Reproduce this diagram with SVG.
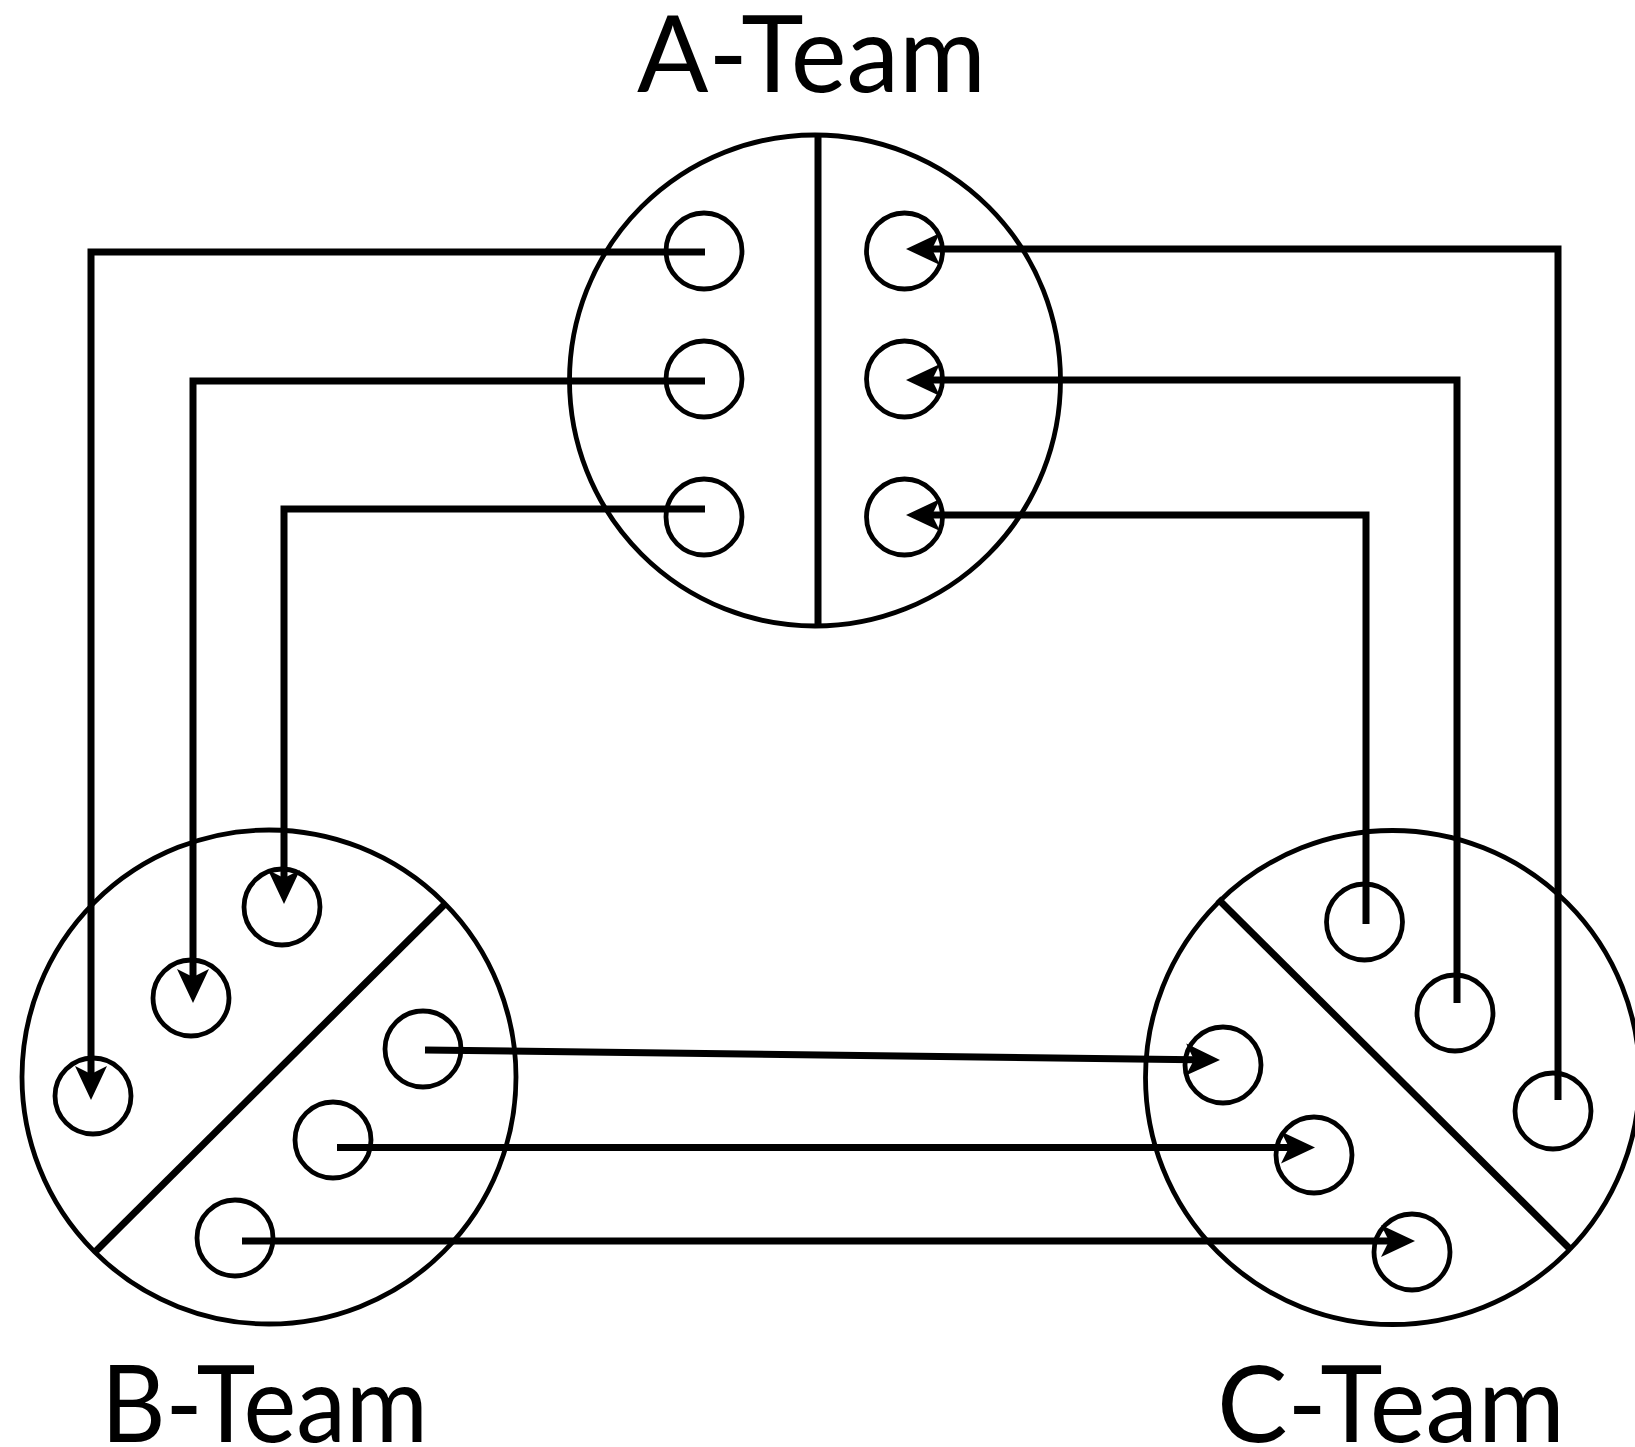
<svg xmlns="http://www.w3.org/2000/svg" width="1635" height="1447" viewBox="0 0 1635 1447">
<style>
  .big { fill: none; stroke: #000; stroke-width: 4.8; }
  .port { fill: none; stroke: #000; stroke-width: 4.8; }
  .div { stroke: #000; stroke-width: 7; fill: none; }
  .wire { fill: none; stroke: #000; stroke-width: 7; stroke-linejoin: miter; }
  .label { font-family: Lato, "Liberation Sans", sans-serif; font-size: 106px; fill: #000; }
</style>
<defs>
  <marker id="arr" markerUnits="userSpaceOnUse" viewBox="-10 -17 38 34" markerWidth="38" markerHeight="34" refX="0" refY="0" orient="auto">
    <path d="M26,0 L-8,-16 L0,0 L-8,16 Z" fill="#000"/>
  </marker>
</defs>
<rect width="1635" height="1447" fill="#fff"/>

<g id="a-team">
  <circle class="big" cx="815" cy="380.5" r="245.5"/>
  <line class="div" x1="818" y1="135" x2="818" y2="626"/>
  <circle class="port" cx="704" cy="251" r="38"/>
  <circle class="port" cx="704" cy="379" r="38"/>
  <circle class="port" cx="704" cy="517" r="38"/>
  <circle class="port" cx="904.5" cy="251" r="38"/>
  <circle class="port" cx="904.5" cy="379" r="38"/>
  <circle class="port" cx="904.5" cy="517" r="38"/>
  <text class="label" x="637" y="92" textLength="349" lengthAdjust="spacingAndGlyphs">A-Team</text>
</g>

<g id="b-team">
  <circle class="big" cx="269" cy="1077" r="247"/>
  <line class="div" x1="95" y1="1252" x2="446" y2="903"/>
  <circle class="port" cx="93" cy="1096" r="38"/>
  <circle class="port" cx="191" cy="998" r="38"/>
  <circle class="port" cx="282" cy="907" r="38"/>
  <circle class="port" cx="423" cy="1049" r="38"/>
  <circle class="port" cx="333" cy="1140" r="38"/>
  <circle class="port" cx="235" cy="1238" r="38"/>
  <text class="label" x="101" y="1442" textLength="327" lengthAdjust="spacingAndGlyphs">B-Team</text>
</g>

<g id="c-team">
  <circle class="big" cx="1392.5" cy="1077.5" r="247"/>
  <line class="div" x1="1218" y1="899" x2="1571" y2="1250"/>
  <circle class="port" cx="1364.5" cy="922" r="38"/>
  <circle class="port" cx="1455" cy="1013" r="38"/>
  <circle class="port" cx="1553" cy="1111" r="38"/>
  <circle class="port" cx="1223" cy="1065" r="38"/>
  <circle class="port" cx="1314" cy="1155" r="38"/>
  <circle class="port" cx="1412" cy="1252" r="38"/>
  <text class="label" x="1217" y="1442" textLength="348" lengthAdjust="spacingAndGlyphs">C-Team</text>
</g>

<g id="connectors">
  <polyline class="wire" points="705,252 91,252 91,1074" marker-end="url(#arr)"/>
  <polyline class="wire" points="705,381 193,381 193,977" marker-end="url(#arr)"/>
  <polyline class="wire" points="705,509 284,509 284,878" marker-end="url(#arr)"/>
  <polyline class="wire" points="1558,1100 1558,249 932,249" marker-end="url(#arr)"/>
  <polyline class="wire" points="1457,1003 1457,380 932,380" marker-end="url(#arr)"/>
  <polyline class="wire" points="1366,924 1366,515 932,515" marker-end="url(#arr)"/>
  <line class="wire" x1="425" y1="1050" x2="1194" y2="1059.7" marker-end="url(#arr)"/>
  <line class="wire" x1="337" y1="1147.5" x2="1289" y2="1147.5" marker-end="url(#arr)"/>
  <line class="wire" x1="242" y1="1241" x2="1389" y2="1241" marker-end="url(#arr)"/>
</g>
</svg>
